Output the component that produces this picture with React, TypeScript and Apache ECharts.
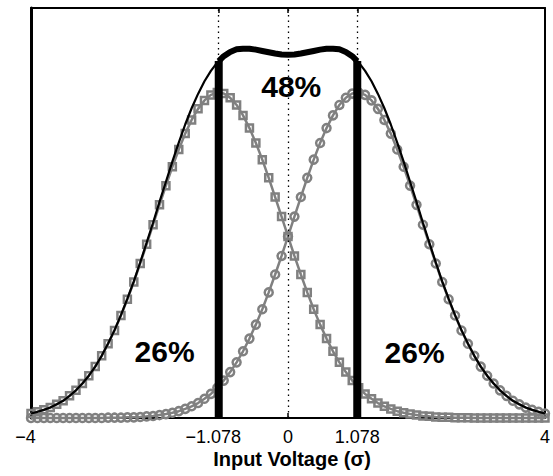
import React, { useEffect, useRef } from "react";
import * as echarts from "echarts";

// x positions of the sampled points (in σ)
const xValues = [
  -4, -3.9, -3.8, -3.7, -3.6, -3.5, -3.4, -3.3, -3.2, -3.1,
  -3, -2.9, -2.8, -2.7, -2.6, -2.5, -2.4, -2.3, -2.2, -2.1,
  -2, -1.9, -1.8, -1.7, -1.6, -1.5, -1.4, -1.3, -1.2, -1.1,
  -1, -0.9, -0.8, -0.7, -0.6, -0.5, -0.4, -0.3, -0.2, -0.1,
  0, 0.1, 0.2, 0.3, 0.4, 0.5, 0.6, 0.7, 0.8, 0.9,
  1, 1.1, 1.2, 1.3, 1.4, 1.5, 1.6, 1.7, 1.8, 1.9,
  2, 2.1, 2.2, 2.3, 2.4, 2.5, 2.6, 2.7, 2.8, 2.9,
  3, 3.1, 3.2, 3.3, 3.4, 3.5, 3.6, 3.7, 3.8, 3.9, 4,
];

// left distribution (square markers)
const squareValues = [
  0.014, 0.019, 0.025, 0.032, 0.042, 0.053, 0.068, 0.085, 0.106, 0.13,
  0.158, 0.191, 0.228, 0.269, 0.315, 0.365, 0.418, 0.475, 0.534, 0.594,
  0.655, 0.714, 0.772, 0.825, 0.874, 0.916, 0.95, 0.976, 0.993, 1.0,
  0.997, 0.984, 0.962, 0.93, 0.891, 0.845, 0.794, 0.738, 0.679, 0.619,
  0.558, 0.498, 0.441, 0.386, 0.334, 0.287, 0.244, 0.205, 0.171, 0.141,
  0.115, 0.093, 0.074, 0.059, 0.046, 0.036, 0.028, 0.021, 0.016, 0.012,
  0.009, 0.006, 0.005, 0.003, 0.002, 0.002, 0.001, 0.001, 0.001, 0.0,
  0.0, 0.0, 0.0, 0.0, 0.0, 0.0, 0.0, 0.0, 0.0, 0.0, 0.0,
];

// right distribution (circle markers)
const circleValues = [
  0.0, 0.0, 0.0, 0.0, 0.0, 0.0, 0.0, 0.0, 0.0, 0.0,
  0.0, 0.0, 0.001, 0.001, 0.001, 0.002, 0.002, 0.003, 0.005, 0.006,
  0.009, 0.012, 0.016, 0.021, 0.028, 0.036, 0.046, 0.059, 0.074, 0.093,
  0.115, 0.141, 0.171, 0.205, 0.244, 0.287, 0.334, 0.386, 0.441, 0.498,
  0.558, 0.619, 0.679, 0.738, 0.794, 0.845, 0.891, 0.93, 0.962, 0.984,
  0.997, 1.0, 0.993, 0.976, 0.95, 0.916, 0.874, 0.825, 0.772, 0.714,
  0.655, 0.594, 0.534, 0.475, 0.418, 0.365, 0.315, 0.269, 0.228, 0.191,
  0.158, 0.13, 0.106, 0.085, 0.068, 0.053, 0.042, 0.032, 0.025, 0.019, 0.014,
];

// decision thresholds and the envelope height there
const thresholds = [-1.078, 1.078];
const thresholdHeight = 1.097;

// x-axis ticks / labels
const tickValues = [-4, -1.078, 0, 1.078, 4];
const gridValues = [-1.078, 0, 1.078];

// region percentage annotations [x, y, text]
const annotations: [number, number, string][] = [
  [0.05, 1.02, "48%"],
  [-1.92, 0.203, "26%"],
  [1.97, 0.2, "26%"],
];

const axisTitle = "Input Voltage (σ)";

const FONT = "'Liberation Sans', Arial, Helvetica, sans-serif";
const GRAY = "#808080";

export default function App() {
  const ref = useRef<HTMLDivElement>(null);

  useEffect(() => {
    if (!ref.current) return;
    const chart = echarts.init(ref.current, undefined, { renderer: "svg" });

    const sumValues = squareValues.map((v, i) => v + circleValues[i]);
    const sumData = xValues.map((x, i) => [x, sumValues[i]]);
    const innerData: (number[])[] = [[thresholds[0], thresholdHeight]];
    xValues.forEach((x, i) => {
      if (x > thresholds[0] && x < thresholds[1]) innerData.push([x, sumValues[i]]);
    });
    innerData.push([thresholds[1], thresholdHeight]);

    const xAxisCommon = {
      type: "value" as const,
      min: -4,
      max: 4,
      splitLine: { show: false },
      axisLine: { show: true, onZero: false, lineStyle: { color: "#000", width: 2 } },
      axisTick: {
        show: true,
        inside: true,
        length: 5,
        customValues: tickValues,
        lineStyle: { color: "#000", width: 1.5 },
      },
    };

    const yAxisCommon = {
      type: "value" as const,
      min: 0,
      max: 1.26,
      splitLine: { show: false },
      axisTick: { show: false },
      axisLabel: { show: false },
    };

    chart.setOption({
      animation: false,
      grid: { left: 31, right: 2, top: 8, bottom: 58, containLabel: false },
      xAxis: [
        {
          ...xAxisCommon,
          position: "bottom",
          axisLabel: {
            show: true,
            customValues: tickValues,
            color: "#000",
            fontSize: 18,
            fontFamily: FONT,
            margin: 10,
            formatter: (v: number) =>
              v < 0 ? `{neg|\u2212${Math.abs(v)}}` : `{pos|${v}}`,
            rich: {
              neg: { fontSize: 18, fontFamily: FONT, color: "#000", padding: [0, 11, 0, 0] },
              pos: { fontSize: 18, fontFamily: FONT, color: "#000" },
            },
          },
        },
        {
          ...xAxisCommon,
          position: "top",
          axisLabel: { show: false },
        },
      ],
      yAxis: [
        {
          ...yAxisCommon,
          position: "left",
          axisLine: { show: true, onZero: false, lineStyle: { color: "#000", width: 3 } },
        },
        {
          ...yAxisCommon,
          position: "right",
          axisLine: { show: true, onZero: false, lineStyle: { color: "#000", width: 2 } },
        },
      ],
      series: [
        {
          type: "line",
          data: [],
          silent: true,
          z: 1,
          markLine: {
            silent: true,
            symbol: "none",
            label: { show: false },
            lineStyle: { color: "#000", width: 1.3, type: [1.5, 4] },
            data: gridValues.map((v) => ({ xAxis: v })),
          },
        },
        {
          type: "line",
          name: "left",
          data: xValues.map((x, i) => [x, squareValues[i]]),
          symbol: "rect",
          symbolSize: 7,
          showAllSymbol: true,
          clip: false,
          z: 3,
          lineStyle: { color: GRAY, width: 2.5 },
          itemStyle: { color: "rgba(255,255,255,0)", borderColor: GRAY, borderWidth: 2.5 },
        },
        {
          type: "line",
          name: "right",
          data: xValues.map((x, i) => [x, circleValues[i]]),
          symbol: "circle",
          symbolSize: 8,
          showAllSymbol: true,
          clip: false,
          z: 3,
          lineStyle: { color: GRAY, width: 2.5 },
          itemStyle: { color: "rgba(255,255,255,0)", borderColor: GRAY, borderWidth: 2.5 },
        },
        {
          type: "line",
          name: "sum",
          data: sumData,
          symbol: "none",
          clip: false,
          z: 4,
          lineStyle: { color: "#000", width: 2.2 },
        },
        {
          type: "line",
          name: "sumInner",
          data: innerData,
          symbol: "none",
          z: 5,
          lineStyle: { color: "#000", width: 6, cap: "butt", join: "round" },
        },
        ...thresholds.map((t) => ({
          type: "line",
          data: [
            [t, 0],
            [t, thresholdHeight],
          ],
          symbol: "none",
          z: 5,
          lineStyle: { color: "#000", width: 8, cap: "butt" },
        })),
        {
          type: "scatter",
          data: annotations.map((a) => ({ value: [a[0], a[1]], name: a[2] })),
          symbolSize: 0,
          z: 10,
          silent: true,
          itemStyle: { color: "#000", opacity: 1 },
          label: {
            show: true,
            position: "inside",
            formatter: "{b}",
            color: "#000",
            opacity: 1,
            textBorderWidth: 0,
            textBorderColor: "transparent",
            fontSize: 30,
            fontWeight: "bold",
            fontFamily: FONT,
          },
        },
      ],
      graphic: [
        {
          type: "text",
          x: 292,
          y: 459,
          z: 10,
          style: {
            text: axisTitle,
            fill: "#000",
            font: `bold 20px ${FONT}`,
            align: "center",
            verticalAlign: "middle",
            textAlign: "center",
            textVerticalAlign: "middle",
          },
        },
      ],
    });

    return () => chart.dispose();
  }, []);

  return (
    <div
      ref={ref}
      style={{ position: "fixed", left: 0, top: 0, width: 553, height: 476, background: "#fff" }}
    />
  );
}
